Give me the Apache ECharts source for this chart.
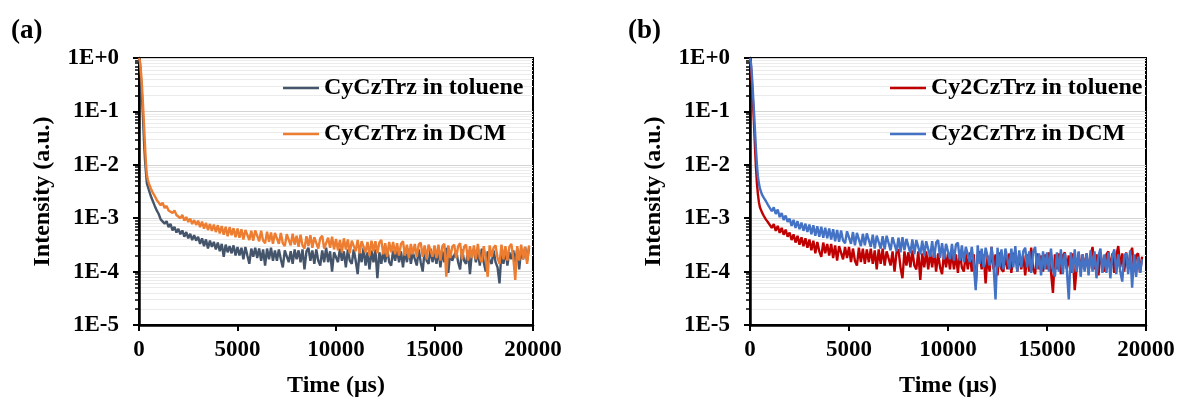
<!DOCTYPE html>
<html><head><meta charset="utf-8">
<script src="https://cdn.jsdelivr.net/npm/echarts@6/dist/echarts.min.js"></script>
<style>html,body{margin:0;padding:0;background:#fff}#c{width:1178px;height:403px}</style>
</head><body><div id="c"></div>
<script>
// time (µs)
const times = [0,20,40,60,80,100,150,200,250,300,350,400,450,500,600,700,800,900,
1000,1100,1200,1300,1400,1500,1600,1700,1800,1900,
2000,2100,2200,2300,2400,2500,2600,2700,2800,2900,
3000,3100,3200,3300,3400,3500,3600,3700,3800,3900,
4000,4100,4200,4300,4400,4500,4600,4700,4800,4900,
5000,5100,5200,5300,5400,5500,5600,5700,5800,5900,
6000,6100,6200,6300,6400,6500,6600,6700,6800,6900,
7000,7100,7200,7300,7400,7500,7600,7700,7800,7900,
8000,8100,8200,8300,8400,8500,8600,8700,8800,8900,
9000,9100,9200,9300,9400,9500,9600,9700,9800,9900,
10000,10100,10200,10300,10400,10500,10600,10700,10800,10900,
11000,11100,11200,11300,11400,11500,11600,11700,11800,11900,
12000,12100,12200,12300,12400,12500,12600,12700,12800,12900,
13000,13100,13200,13300,13400,13500,13600,13700,13800,13900,
14000,14100,14200,14300,14400,14500,14600,14700,14800,14900,
15000,15100,15200,15300,15400,15500,15600,15700,15800,15900,
16000,16100,16200,16300,16400,16500,16600,16700,16800,16900,
17000,17100,17200,17300,17400,17500,17600,17700,17800,17900,
18000,18100,18200,18300,18400,18500,18600,18700,18800,18900,
19000,19100,19200,19300,19400,19500,19600,19700,19800];

// (a) CyCzTrz in toluene
const cyTol = [1,0.95,0.85,0.7,0.55,0.42,0.2,0.08,0.03,0.013,0.0075,0.0045,0.0039,0.0034,0.0026,0.0021,0.0017,0.0014,
1.2e-3,9.5e-4,1.0e-3,7.9e-4,8.8e-4,6.8e-4,7.8e-4,5.9e-4,6.9e-4,5.4e-4,
6.3e-4,5.0e-4,5.9e-4,4.5e-4,5.5e-4,4.2e-4,5.1e-4,3.9e-4,4.8e-4,3.8e-4,
4.5e-4,3.3e-4,4.2e-4,3.0e-4,4.0e-4,2.7e-4,3.8e-4,2.9e-4,3.6e-4,2.6e-4,
3.5e-4,2.4e-4,3.3e-4,1.9e-4,3.2e-4,2.3e-4,3.0e-4,2.2e-4,3.1e-4,2.0e-4,
2.9e-4,2.0e-4,2.8e-4,1.7e-4,2.9e-4,2.0e-4,1.4e-4,2.7e-4,1.9e-4,2.8e-4,
1.8e-4,2.7e-4,1.6e-4,2.6e-4,1.3e-4,2.7e-4,1.7e-4,2.8e-4,1.6e-4,2.5e-4,
1.6e-4,2.6e-4,1.7e-4,1.2e-4,2.5e-4,2.7e-4,1.5e-4,2.4e-4,1.4e-4,2.6e-4,
1.7e-4,2.5e-4,1.5e-4,2.6e-4,1.1e-4,2.4e-4,2.8e-4,1.6e-4,2.5e-4,1.4e-4,
2.6e-4,1.6e-4,1.3e-4,2.5e-4,1.5e-4,2.8e-4,1.5e-4,2.4e-4,1.0e-4,2.3e-4,
2.5e-4,1.5e-4,2.7e-4,1.6e-4,2.4e-4,1.2e-4,2.6e-4,1.6e-4,1.4e-4,2.6e-4,
1.6e-4,9.0e-5,2.4e-4,1.5e-4,2.8e-4,1.3e-4,2.3e-4,1.1e-4,2.5e-4,1.5e-4,
2.6e-4,7.5e-5,2.3e-4,1.4e-4,2.4e-4,1.5e-4,2.7e-4,1.5e-4,1.3e-4,2.5e-4,
1.6e-4,2.6e-4,1.5e-4,2.4e-4,1.2e-4,2.5e-4,1.5e-4,2.7e-4,1.4e-4,2.3e-4,
2.4e-4,1.3e-4,2.6e-4,1.5e-4,1.0e-4,2.5e-4,1.6e-4,1.4e-4,2.7e-4,1.5e-4,
2.3e-4,1.4e-4,2.6e-4,1.2e-4,2.4e-4,1.5e-4,2.8e-4,9.5e-5,2.4e-4,1.6e-4,
1.5e-4,2.5e-4,1.5e-4,1.1e-4,2.6e-4,1.6e-4,1.4e-4,2.5e-4,9.0e-5,2.3e-4,
2.6e-4,1.5e-4,2.4e-4,1.3e-4,2.7e-4,1.5e-4,1.0e-4,2.4e-4,1.6e-4,1.4e-4,
2.5e-4,1.5e-4,1.2e-4,6.0e-5,2.4e-4,1.4e-4,2.6e-4,1.3e-4,2.3e-4,1.7e-4,
2.5e-4,1.5e-4,2.7e-4,1.1e-4,2.6e-4,1.7e-4,2.9e-4,1.6e-4,2.8e-4];

// (a) CyCzTrz in DCM
const cyDcm = [1,0.97,0.9,0.8,0.68,0.55,0.3,0.14,0.06,0.025,0.011,0.0065,0.0052,0.0045,0.0036,0.003,0.0026,0.0022,
2.1e-3,1.75e-3,1.95e-3,1.55e-3,1.7e-3,1.4e-3,1.5e-3,1.25e-3,1.4e-3,1.15e-3,
1.25e-3,1.0e-3,1.15e-3,9.0e-4,1.05e-3,8.5e-4,9.8e-4,7.8e-4,9.2e-4,7.5e-4,
9.0e-4,6.8e-4,8.6e-4,6.4e-4,8.2e-4,6.0e-4,7.8e-4,5.8e-4,7.6e-4,5.5e-4,
7.4e-4,5.2e-4,7.1e-4,4.9e-4,6.9e-4,4.6e-4,6.8e-4,4.8e-4,6.5e-4,4.4e-4,
6.4e-4,4.3e-4,6.2e-4,4.0e-4,6.0e-4,6.3e-4,3.9e-4,5.8e-4,3.8e-4,5.9e-4,
5.7e-4,3.7e-4,5.8e-4,3.8e-4,3.4e-4,5.6e-4,3.6e-4,5.4e-4,3.3e-4,5.3e-4,
5.1e-4,3.3e-4,5.3e-4,3.4e-4,3.0e-4,5.0e-4,4.7e-4,3.1e-4,5.1e-4,3.2e-4,
4.7e-4,2.9e-4,4.9e-4,3.1e-4,2.7e-4,4.6e-4,3.0e-4,4.8e-4,2.8e-4,4.4e-4,
4.5e-4,2.7e-4,4.2e-4,4.7e-4,2.7e-4,2.5e-4,4.3e-4,2.8e-4,4.5e-4,2.6e-4,
4.1e-4,2.5e-4,3.9e-4,2.3e-4,4.2e-4,2.6e-4,4.0e-4,2.2e-4,3.8e-4,4.1e-4,
2.4e-4,3.9e-4,2.2e-4,3.7e-4,4.0e-4,2.3e-4,3.6e-4,2.0e-4,3.8e-4,2.4e-4,
3.7e-4,2.2e-4,3.5e-4,3.9e-4,2.1e-4,3.4e-4,1.9e-4,3.6e-4,2.3e-4,3.6e-4,
2.1e-4,3.4e-4,2.0e-4,3.3e-4,3.7e-4,2.0e-4,3.2e-4,1.8e-4,3.3e-4,2.1e-4,
3.3e-4,1.9e-4,3.2e-4,3.5e-4,1.9e-4,3.1e-4,1.7e-4,3.2e-4,3.4e-4,1.9e-4,
3.1e-4,1.8e-4,3.2e-4,1.6e-4,3.0e-4,3.3e-4,8.0e-5,3.1e-4,1.8e-4,2.9e-4,
3.2e-4,1.8e-4,3.0e-4,3.4e-4,1.7e-4,2.9e-4,3.2e-4,1.6e-4,3.0e-4,1.8e-4,
3.1e-4,1.7e-4,3.3e-4,1.8e-4,1.5e-4,3.0e-4,1.8e-4,8.0e-5,3.1e-4,1.9e-4,
2.8e-4,3.1e-4,1.8e-4,1.4e-4,3.2e-4,1.7e-4,3.0e-4,1.6e-4,2.9e-4,3.3e-4,
1.8e-4,7.0e-5,3.0e-4,1.6e-4,3.2e-4,1.7e-4,2.9e-4,1.4e-4,3.1e-4];

// (b) Cy2CzTrz in toluene
const cy2Tol = [1,0.9,0.75,0.6,0.45,0.33,0.15,0.06,0.022,0.009,0.0045,0.0028,0.002,0.0016,0.0013,0.0011,0.00095,0.00085,
8.6e-4,6.6e-4,7.8e-4,5.8e-4,7.2e-4,5.3e-4,6.6e-4,4.9e-4,6.1e-4,4.5e-4,
5.4e-4,3.9e-4,5.0e-4,3.5e-4,4.7e-4,3.2e-4,4.4e-4,3.0e-4,4.2e-4,2.8e-4,
4.0e-4,2.5e-4,3.8e-4,2.2e-4,3.6e-4,2.4e-4,1.9e-4,3.5e-4,2.2e-4,3.3e-4,
2.0e-4,3.3e-4,1.8e-4,3.1e-4,1.6e-4,3.0e-4,3.2e-4,1.7e-4,2.9e-4,1.8e-4,
2.9e-4,1.5e-4,2.7e-4,1.6e-4,1.3e-4,2.8e-4,1.5e-4,2.7e-4,1.4e-4,2.6e-4,
1.5e-4,2.7e-4,1.4e-4,2.5e-4,1.1e-4,2.6e-4,1.4e-4,2.7e-4,1.3e-4,2.4e-4,
2.5e-4,1.3e-4,2.4e-4,1.0e-4,2.3e-4,2.6e-4,1.2e-4,7.5e-5,2.4e-4,1.3e-4,
2.3e-4,1.2e-4,2.5e-4,1.3e-4,1.1e-4,2.4e-4,7.0e-5,2.2e-4,1.2e-4,2.4e-4,
1.1e-4,2.3e-4,1.2e-4,2.4e-4,1.0e-4,2.2e-4,1.2e-4,9.0e-5,2.3e-4,1.2e-4,
2.2e-4,1.1e-4,2.4e-4,1.1e-4,2.1e-4,9.5e-5,2.3e-4,1.2e-4,1.0e-4,2.2e-4,
1.1e-4,2.3e-4,1.0e-4,2.1e-4,5.5e-5,2.0e-4,2.4e-4,1.1e-4,2.1e-4,6.0e-5,
2.0e-4,1.0e-4,2.9e-4,1.1e-4,2.1e-4,8.5e-5,2.3e-4,1.1e-4,1.0e-4,2.1e-4,
1.1e-4,2.2e-4,9.5e-5,2.0e-4,2.4e-4,1.0e-4,2.1e-4,1.1e-4,2.0e-4,8.5e-5,
2.1e-4,1.0e-4,2.8e-4,1.1e-4,9.0e-5,2.2e-4,1.1e-4,2.0e-4,1.0e-4,2.1e-4,
1.1e-4,2.3e-4,1.0e-4,4.0e-5,2.1e-4,1.1e-4,2.2e-4,9.0e-5,2.0e-4,2.3e-4,
1.1e-4,2.0e-4,9.5e-5,2.2e-4,4.5e-5,1.2e-4,2.3e-4,1.0e-4,2.1e-4,1.1e-4,
2.2e-4,1.0e-4,2.0e-4,2.9e-4,1.1e-4,2.1e-4,8.5e-5,2.3e-4,1.2e-4,1.0e-4,
2.1e-4,2.4e-4,1.1e-4,2.2e-4,9.5e-5,2.0e-4,3.0e-4,1.2e-4,2.2e-4,1.0e-4,
2.3e-4,1.1e-4,2.1e-4,2.8e-4,1.0e-4,2.0e-4,2.2e-4,9.5e-5,1.9e-4];

// (b) Cy2CzTrz in DCM
const cy2Dcm = [1,0.95,0.85,0.72,0.58,0.45,0.22,0.1,0.045,0.02,0.01,0.006,0.0045,0.0036,0.0028,0.0024,0.0021,0.0018,
1.75e-3,1.35e-3,1.6e-3,1.2e-3,1.45e-3,1.05e-3,1.25e-3,9.3e-4,1.12e-3,8.5e-4,
9.8e-4,7.2e-4,9.3e-4,6.6e-4,8.8e-4,6.2e-4,8.3e-4,5.8e-4,7.9e-4,5.5e-4,
7.6e-4,5.0e-4,7.4e-4,4.7e-4,7.1e-4,4.5e-4,6.9e-4,4.3e-4,6.6e-4,4.2e-4,
6.4e-4,4.0e-4,6.2e-4,3.7e-4,6.0e-4,3.6e-4,5.9e-4,3.8e-4,3.4e-4,5.7e-4,
5.6e-4,3.3e-4,5.5e-4,3.1e-4,5.3e-4,5.6e-4,3.0e-4,5.1e-4,3.1e-4,5.2e-4,
5.0e-4,2.9e-4,4.9e-4,2.7e-4,4.7e-4,5.0e-4,2.7e-4,4.6e-4,2.6e-4,4.7e-4,
4.5e-4,2.5e-4,4.4e-4,4.7e-4,2.4e-4,4.3e-4,2.3e-4,4.4e-4,2.5e-4,4.1e-4,
4.2e-4,2.2e-4,4.0e-4,2.1e-4,3.9e-4,4.2e-4,2.1e-4,3.8e-4,2.0e-4,3.7e-4,
3.8e-4,1.9e-4,3.7e-4,1.8e-4,3.5e-4,3.9e-4,1.8e-4,3.4e-4,1.7e-4,3.3e-4,
3.4e-4,1.7e-4,3.3e-4,1.6e-4,3.2e-4,3.5e-4,1.6e-4,3.1e-4,1.5e-4,2.9e-4,
3.0e-4,1.5e-4,2.9e-4,1.4e-4,4.5e-5,3.1e-4,1.4e-4,2.7e-4,1.2e-4,2.8e-4,
2.7e-4,1.3e-4,2.9e-4,1.3e-4,3.0e-5,2.8e-4,1.2e-4,2.6e-4,1.1e-4,2.7e-4,
2.5e-4,1.1e-4,2.7e-4,1.2e-4,3.0e-4,1.0e-4,2.5e-4,1.2e-4,2.4e-4,2.8e-4,
1.2e-4,2.4e-4,9.5e-5,2.3e-4,2.9e-4,1.1e-4,2.2e-4,8.5e-5,2.4e-4,1.1e-4,
2.3e-4,1.0e-4,2.7e-4,1.1e-4,8.0e-5,2.3e-4,1.0e-4,2.6e-4,9.0e-5,2.2e-4,
1.1e-4,3.0e-5,2.3e-4,9.5e-5,2.6e-4,1.0e-4,2.4e-4,8.0e-5,2.1e-4,1.0e-4,
2.2e-4,8.5e-5,2.5e-4,1.0e-4,2.4e-4,7.5e-5,2.0e-4,2.7e-4,9.5e-5,2.1e-4,
9.5e-5,2.3e-4,7.5e-5,2.0e-4,2.6e-4,9.0e-5,2.1e-4,1.0e-4,6.5e-5,2.0e-4,
2.2e-4,9.0e-5,2.5e-4,5.0e-5,2.1e-4,8.0e-5,1.9e-4,9.5e-5,1.7e-4];

const seriesNames = ['CyCzTrz in toluene', 'CyCzTrz in DCM', 'Cy2CzTrz in toluene', 'Cy2CzTrz in DCM'];
const seriesColors = ['#44546A', '#ED7D31', '#C00000', '#4472C4'];
const panelLabels = ['(a)', '(b)'];
const yTickLabels = ['1E+0', '1E-1', '1E-2', '1E-3', '1E-4', '1E-5'];
const xTickLabels = ['0', '5000', '10000', '15000', '20000'];
const minorMantissas = [2, 3, 4, 5, 6, 7, 8, 9];
const decades = [1e-5, 1e-4, 1e-3, 1e-2, 1e-1];
const xName = 'Time (μs)';
const yName = 'Intensity (a.u.)';

const FONT = "'Liberation Serif', 'Times New Roman', serif";
const minorVals = [];
decades.forEach(d => minorMantissas.forEach(m => minorVals.push(m * d)));

const grids = [
  {left: 139, top: 58, width: 394, height: 269},
  {left: 750, top: 58, width: 396, height: 269}
];

const xAxes = grids.map((g, i) => ({
  type: 'value', gridIndex: i, min: 0, max: 20000, interval: 5000,
  name: xName, nameLocation: 'middle', nameGap: 49,
  nameTextStyle: {fontFamily: FONT, fontWeight: 'bold', fontSize: 24, color: '#000'},
  axisLine: {show: true, lineStyle: {color: '#000', width: 2.5}},
  axisTick: {show: true, length: 6, lineStyle: {color: '#000', width: 2}},
  axisLabel: {fontFamily: FONT, fontWeight: 'bold', fontSize: 23, color: '#000', margin: 14,
    formatter: v => xTickLabels[Math.round(v / 5000)]},
  splitLine: {show: false}
}));

const yAxes = [];
grids.forEach((g, i) => {
  // minor (2..9 x 10^n) ticks and gridlines
  yAxes.push({
    type: 'log', logBase: 10, gridIndex: i, position: 'left', min: 1e-5, max: 1,
    axisLine: {show: false},
    axisLabel: {show: false},
    axisTick: {show: true, customValues: minorVals, length: 4, lineStyle: {color: '#000', width: 1.5}},
    splitLine: {show: true, lineStyle: {color: '#EBEBEB', width: 1}}
  });
  // major decades
  yAxes.push({
    type: 'log', logBase: 10, gridIndex: i, position: 'left', min: 1e-5, max: 1,
    name: yName, nameLocation: 'middle', nameGap: 84, nameRotate: 90,
    nameTextStyle: {fontFamily: FONT, fontWeight: 'bold', fontSize: 24, color: '#000'},
    axisLine: {show: true, lineStyle: {color: '#000', width: 2.5}},
    axisTick: {show: true, length: 6, lineStyle: {color: '#000', width: 2}},
    axisLabel: {fontFamily: FONT, fontWeight: 'bold', fontSize: 23, color: '#000', margin: 20,
      formatter: v => yTickLabels[Math.round(-Math.log10(v))]},
    splitLine: {show: true, lineStyle: {color: '#D4D4D4', width: 1.2}}
  });
});

const dataSets = [cyTol, cyDcm, cy2Tol, cy2Dcm];
const series = dataSets.map((arr, k) => {
  const panel = k < 2 ? 0 : 1;
  return {
    name: seriesNames[k], type: 'line', xAxisIndex: panel, yAxisIndex: panel * 2 + 1,
    data: times.map((t, i) => [t, arr[i]]),
    symbol: 'none', showSymbol: false, color: seriesColors[k],
    lineStyle: {color: seriesColors[k], width: 2.4}, animation: false, z: 3 + k
  };
});

const legendBase = {
  orient: 'vertical', icon: 'rect', itemWidth: 36, itemHeight: 2.5, itemGap: 22,
  textStyle: {fontFamily: FONT, fontWeight: 'bold', fontSize: 24, color: '#000'}
};

const chart = echarts.init(document.getElementById('c'), null, {renderer: 'canvas'});
chart.setOption({
  backgroundColor: '#fff',
  animation: false,
  title: [
    {text: panelLabels[0], left: 6, top: 13, textStyle: {fontFamily: FONT, fontWeight: 'bold', fontSize: 27, color: '#000'}},
    {text: panelLabels[1], left: 623, top: 13, textStyle: {fontFamily: FONT, fontWeight: 'bold', fontSize: 27, color: '#000'}}
  ],
  legend: [
    Object.assign({}, legendBase, {data: [seriesNames[0], seriesNames[1]], left: 278, top: 71}),
    Object.assign({}, legendBase, {data: [seriesNames[2], seriesNames[3]], left: 885, top: 71})
  ],
  grid: grids.map(g => Object.assign({show: true, borderColor: '#000', borderWidth: 2, backgroundColor: '#fff'}, g)),
  xAxis: xAxes,
  yAxis: yAxes,
  series: series
});
</script></body></html>
